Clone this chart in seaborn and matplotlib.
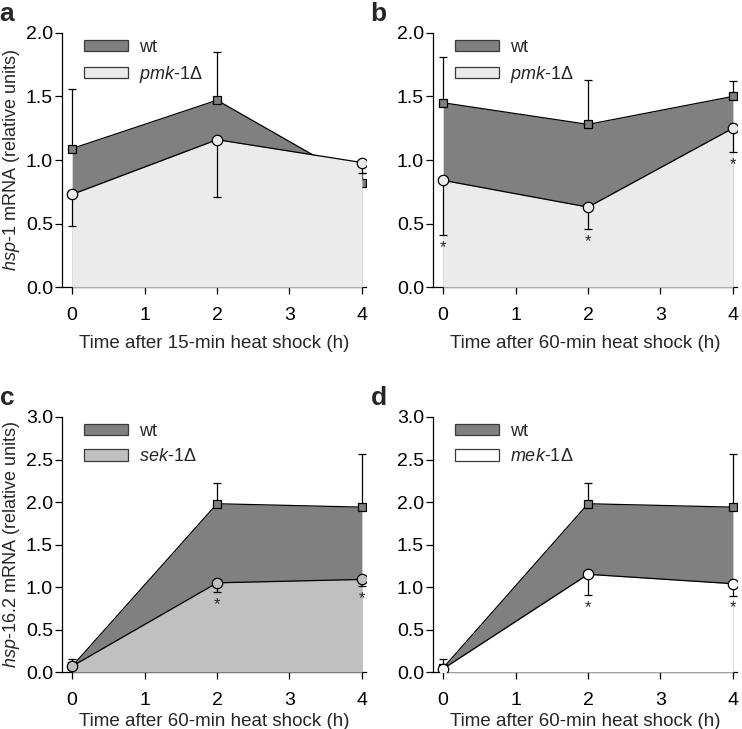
import numpy as np
import matplotlib.pyplot as plt
from matplotlib.patches import Patch
import seaborn as sns

# time points (h)
times = [0, 2, 4]

# panel a: hsp-1, 15-min heat shock
a_wt = [1.09, 1.47, 0.82]
a_wt_err = [0.47, 0.38, 0.08]
a_mut = [0.73, 1.16, 0.98]
a_mut_err = [0.25, 0.45, 0.08]
a_sig = []

# panel b: hsp-1, 60-min heat shock
b_wt = [1.45, 1.28, 1.50]
b_wt_err = [0.36, 0.35, 0.12]
b_mut = [0.84, 0.63, 1.25]
b_mut_err = [0.43, 0.17, 0.19]
b_sig = [0, 1, 2]

# panel c: hsp-16.2, sek-1
c_wt = [0.07, 1.98, 1.94]
c_wt_err = [0.08, 0.24, 0.63]
c_mut = [0.07, 1.05, 1.09]
c_mut_err = [0.03, 0.11, 0.08]
c_sig = [1, 2]

# panel d: hsp-16.2, mek-1
d_wt = [0.05, 1.98, 1.94]
d_wt_err = [0.10, 0.24, 0.63]
d_mut = [0.04, 1.15, 1.04]
d_mut_err = [0.03, 0.24, 0.14]
d_sig = [1, 2]

sns.set_style("ticks")
plt.rcParams['font.family'] = ['Liberation Sans', 'DejaVu Sans']
plt.rcParams['mathtext.fontset'] = 'custom'
plt.rcParams['mathtext.rm'] = 'Liberation Sans'
plt.rcParams['mathtext.it'] = 'Liberation Sans:italic'
plt.rcParams['font.size'] = 13

WT_GREY = '#808080'


def draw_panel(ax, wt, wt_err, mut, mut_err, sig, mut_color, mut_label, ymax, xlabel, xpad, ylabel, letter):
    # wt area, line, error bars
    ax.fill_between(times, 0, wt, color=WT_GREY, lw=0, zorder=1)
    ax.errorbar(times, wt, yerr=[np.zeros(3), wt_err], fmt='none', ecolor='black',
                elinewidth=0.9, capsize=3, capthick=0.9, zorder=2)
    sns.lineplot(x=times, y=wt, ax=ax, color='black', lw=0.9, marker='s', markersize=6,
                 markerfacecolor=WT_GREY, markeredgecolor='black', markeredgewidth=0.9, zorder=2)
    # mutant area, line, error bars
    ax.fill_between(times, 0, mut, color=mut_color, lw=0, zorder=3)
    ax.errorbar(times, mut, yerr=[mut_err, np.zeros(3)], fmt='none', ecolor='black',
                elinewidth=0.9, capsize=3, capthick=0.9, zorder=4)
    sns.lineplot(x=times, y=mut, ax=ax, color='black', lw=0.9, marker='o', markersize=7.5,
                 markerfacecolor=mut_color, markeredgecolor='black', markeredgewidth=0.9, zorder=5)
    for i in sig:
        ax.annotate('*', (times[i], mut[i] - mut_err[i]), xytext=(0, -9), textcoords='offset points',
                    ha='center', va='center', fontsize=12, zorder=6)

    ax.set_xlim(-0.14, 4.06)
    ax.set_ylim(0, ymax)
    ax.set_xticks([0, 1, 2, 3, 4])
    ax.set_yticks(np.arange(0, ymax + 0.01, 0.5))
    ax.set_yticklabels(['%.1f' % v for v in np.arange(0, ymax + 0.01, 0.5)])
    ax.tick_params(direction='out', length=5, width=0.9, labelsize=14, colors='black')
    ax.tick_params(axis='x', pad=9)
    ax.tick_params(axis='y', pad=1.5)
    for s in ['left', 'bottom']:
        ax.spines[s].set_linewidth(0.9)
        ax.spines[s].set_color('black')
    sns.despine(ax=ax)
    ax.set_xlabel(xlabel, fontsize=13.5, labelpad=xpad)
    if ylabel:
        ax.set_ylabel(ylabel, fontsize=13, labelpad=3)

    handles = [Patch(facecolor=WT_GREY, edgecolor='#3a3a3a', lw=0.9, label='wt'),
               Patch(facecolor=mut_color, edgecolor='#3a3a3a', lw=0.9, label=mut_label)]
    ax.legend(handles=handles, loc='upper left', bbox_to_anchor=(0.02, 1.04), frameon=False,
              fontsize=13, handlelength=2.4, handleheight=0.6, handletextpad=0.6, labelspacing=0.45)
    ax.text(-0.205, 1.075, letter, transform=ax.transAxes, fontsize=19, fontweight='bold',
            ha='left', va='center')


fig = plt.figure(figsize=(7.42, 7.29), dpi=100)
ax_a = fig.add_axes([0.0836, 0.606, 0.41, 0.349])
ax_b = fig.add_axes([0.5836, 0.606, 0.41, 0.349])
ax_c = fig.add_axes([0.0836, 0.078, 0.41, 0.35])
ax_d = fig.add_axes([0.5836, 0.078, 0.41, 0.35])

ylab1 = r'$\mathit{hsp}$-$\mathit{1}$ mRNA (relative units)'
ylab2 = r'$\mathit{hsp}$-$\mathit{16}$.2 mRNA (relative units)'

draw_panel(ax_a, a_wt, a_wt_err, a_mut, a_mut_err, a_sig, '#ebebeb', r'$\mathit{pmk}$-$\mathit{1}$Δ',
           2.0, 'Time after 15-min heat shock (h)', 8, ylab1, 'a')
draw_panel(ax_b, b_wt, b_wt_err, b_mut, b_mut_err, b_sig, '#ebebeb', r'$\mathit{pmk}$-$\mathit{1}$Δ',
           2.0, 'Time after 60-min heat shock (h)', 8, None, 'b')
draw_panel(ax_c, c_wt, c_wt_err, c_mut, c_mut_err, c_sig, '#c0c0c0', r'$\mathit{sek}$-$\mathit{1}$Δ',
           3.0, 'Time after 60-min heat shock (h)', 3, ylab2, 'c')
draw_panel(ax_d, d_wt, d_wt_err, d_mut, d_mut_err, d_sig, '#ffffff', r'$\mathit{mek}$-$\mathit{1}$Δ',
           3.0, 'Time after 60-min heat shock (h)', 3, None, 'd')

fig.savefig('out.png', dpi=100)
